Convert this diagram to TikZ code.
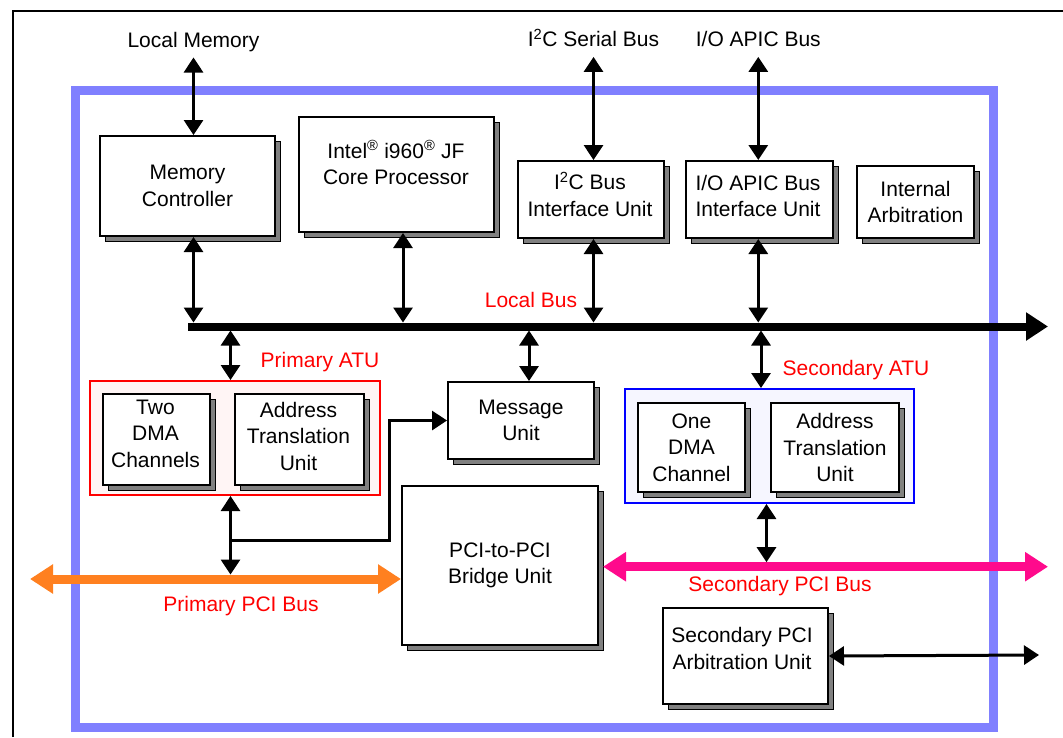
\documentclass[tikz,border=0pt]{standalone}
\usepackage{fontspec}
\setmainfont{Liberation Sans}
\usetikzlibrary{arrows.meta,shadows,calc}
\definecolor{frameblue}{HTML}{8080FF}
\definecolor{pcibus}{HTML}{FF8020}
\definecolor{secbus}{HTML}{FF0A8C}
\definecolor{shadowgray}{HTML}{808080}
\definecolor{pinkfill}{HTML}{FFF5F5}
\definecolor{bluefill}{HTML}{F6F6FF}
\begin{document}
\begin{tikzpicture}[x=1pt,y=-1pt,
  font=\fontsize{21}{26.5}\selectfont,
  box/.style={draw, line width=2pt, fill=white, anchor=north west, inner sep=0pt, align=center,
    copy shadow={shadow xshift=5pt, shadow yshift=-5pt, fill=shadowgray, draw=black, line width=1pt}},
  grp/.style={line width=2pt, anchor=north west, inner sep=0pt},
  lbl/.style={inner sep=0pt, anchor=base},
  redlbl/.style={lbl, text=red},
  toplbl/.style={lbl, text height=15pt, text depth=10pt},
  txt/.style={inner sep=0pt, align=center},
  dar/.style={line width=3pt, {Triangle[width=19pt,length=15pt]}-{Triangle[width=19pt,length=15pt]}},
  sar/.style={line width=3pt, -{Triangle[width=19pt,length=15pt]}},
  busline/.style={line width=9pt, {Triangle[width=28pt,length=23pt]}-{Triangle[width=28pt,length=23pt]}}
]
\useasboundingbox (0,0) rectangle (1063,737);
% outer frame
\draw[line width=2pt] (12.5,737) -- (12.5,10.5) -- (1063,10.5);
% chip frame
\draw[frameblue, line width=9pt] (75.5,90.5) rectangle (993.5,727);

% top labels
\node[toplbl] (lm) at (193.5,47.3) {Local Memory};
\node[toplbl] (i2cbus) at (593.5,46.7) {I\textsuperscript{2}C Serial Bus};
\node[toplbl] (apicbus) at (758.3,46.7) {I/O APIC Bus};

% top row boxes
\node[box, minimum width=175pt, minimum height=100pt] (mc) at (99,135) {Memory\\Controller};
\node[box, minimum width=195pt, minimum height=115pt] (cpu) at (298,116) {};
\node[txt] (cputext) at (396,162.5) {Intel\textsuperscript{®} i960\textsuperscript{®} JF\\Core Processor};
\node[box, minimum width=146pt, minimum height=77pt] (i2c) at (517,160) {};
\node[txt] (i2ctext) at (590,194) {I\textsuperscript{2}C Bus\\Interface Unit};
\node[box, minimum width=147pt, minimum height=77pt] (apic) at (685,160) {};
\node[txt] (apictext) at (758,196) {I/O APIC Bus\\Interface Unit};
\node[box, minimum width=117pt, minimum height=72pt] (arb) at (856,165) {Internal\\Arbitration};

% local bus
\coordinate (lbL) at (188,326.5);
\coordinate (lbR) at (1048,326.5);
\coordinate (lbT) at (188,322.5);
\coordinate (lbB) at (188,330.5);
\draw[line width=8pt, -{Triangle[width=27pt,length=22pt]}] (lbL) -- (lbR);
\node[redlbl] (lbus) at (531,307) {Local Bus};

% primary ATU group
\node[grp, draw=red, fill=pinkfill, minimum width=290pt, minimum height=114pt] (patu) at (89,380) {};
\node[redlbl] (patulbl) at (320,367) {Primary ATU};
\node[box, minimum width=107pt, minimum height=91pt] (dma2) at (102,393) {};
\node[txt] (dma2text) at (155.5,433.5) {Two\\DMA\\Channels};
\node[box, minimum width=129pt, minimum height=91pt] (atu1) at (234,393) {};
\node[txt] (atu1text) at (298.5,436) {Address\\Translation\\Unit};

% message unit and bridge
\node[box, minimum width=146pt, minimum height=77pt] (msg) at (447,381) {Message\\Unit};
\node[box, minimum width=196pt, minimum height=159pt] (bridge) at (401,485) {PCI-to-PCI\\Bridge Unit};

% secondary ATU group
\node[grp, draw=blue, fill=bluefill, minimum width=289pt, minimum height=114pt] (satu) at (624,388) {};
\node[redlbl] (satulbl) at (856,375) {Secondary ATU};
\node[box, minimum width=107pt, minimum height=89pt] (dma1) at (637,402) {One\\DMA\\Channel};
\node[box, minimum width=128pt, minimum height=89pt] (atu2) at (770,402) {Address\\Translation\\Unit};

% secondary arbitration
\node[box, minimum width=165pt, minimum height=96pt] (sarb) at (662,607) {};
\node[txt] (sarbtext) at (742,648.5) {Secondary PCI\\Arbitration Unit};

% x positions of connectors
\coordinate (xcpu) at (403,0);
\coordinate (xpa) at (230.5,0);
\coordinate (xmsg) at (529,0);
\coordinate (xsa) at (761,0);
\coordinate (xsb) at (766.5,0);

% vertical arrows, top
\draw[dar] (lm.south) -- (lm.south |- mc.north);
\draw[dar] (i2cbus.south) -- (i2cbus.south |- i2c.north);
\draw[dar] (apicbus.south) -- (apicbus.south |- apic.north);
% boxes to local bus
\draw[dar] (lm.south |- mc.south) -- (lm.south |- lbT);
\draw[dar] (xcpu |- cpu.south) -- (xcpu |- lbT);
\draw[dar] (i2cbus.south |- i2c.south) -- (i2cbus.south |- lbT);
\draw[dar] (apicbus.south |- apic.south) -- (apicbus.south |- lbT);
% local bus to lower units
\draw[dar] (xpa |- lbB) -- (xpa |- patu.north);
\draw[dar] (xmsg |- lbB) -- (xmsg |- msg.north);
\draw[dar] (xsa |- lbB) -- (xsa |- satu.north);

% primary PCI bus
\coordinate (ppL) at (30,579);
\coordinate (ppT) at (0,574.5);
\draw[pcibus, busline] (ppL) -- (bridge.west |- ppL);
\node[redlbl] (pplbl) at (241,611) {Primary PCI Bus};
\draw[dar] (xpa |- patu.south) -- (xpa |- ppT);
\coordinate (brk) at (389,540);
\draw[sar] (xpa |- brk) -- (brk) |- (msg.west);

% secondary PCI bus
\coordinate (spR) at (1048,566.7);
\coordinate (spT) at (0,562.2);
\draw[secbus, busline] ($(bridge.east |- spR)+(4,0)$) -- (spR);
\node[redlbl] (splbl) at (780,591.7) {Secondary PCI Bus};
\draw[dar] (xsb |- satu.south) -- (xsb |- spT);

% arbitration external
\coordinate (sarbR) at (1039,655);
\draw[dar] (sarb.east) -- (sarbR);
\end{tikzpicture}
\end{document}
